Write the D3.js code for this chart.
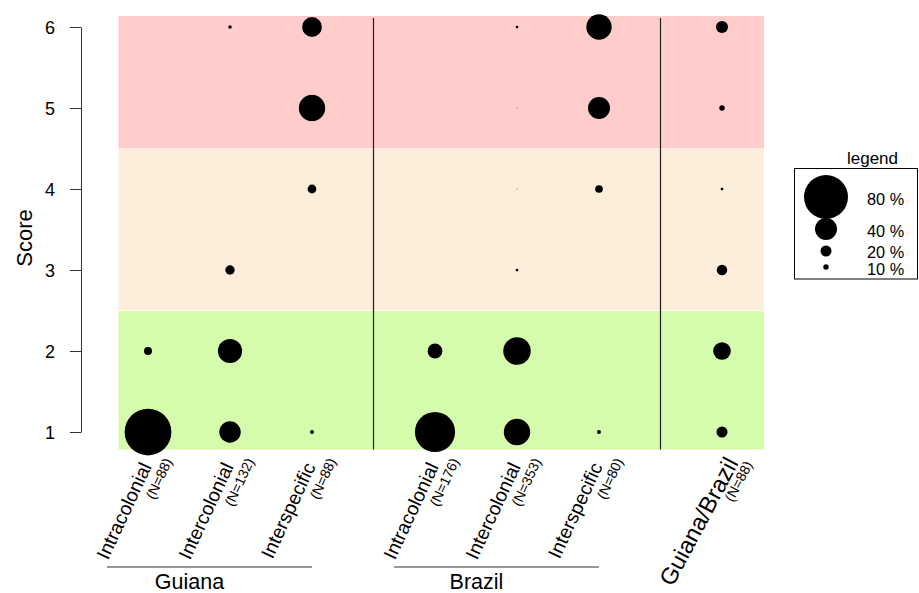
<!DOCTYPE html>
<html><head><meta charset="utf-8">
<script src="https://cdn.jsdelivr.net/npm/d3@7"></script>
<style>
body{margin:0;background:#fff}
text{font-family:"Liberation Sans", Arial, Helvetica, sans-serif;fill:#000}
</style>
</head><body>
<svg id="chart" width="919" height="593"></svg>
<script>
// ---- data ----
const categories = ["Intracolonial","Intercolonial","Interspecific","Intracolonial","Intercolonial","Interspecific","Guiana/Brazil"];
const sampleSizes = [88, 132, 88, 176, 353, 80, 88];
const positions = [1, 2, 3, 4.5, 5.5, 6.5, 8];
const scores = [1, 2, 3, 4, 5, 6];
// percentage of pairs at each score (score 1 .. 6)
const guianaIntracolonial = [85, 14.5, 0, 0, 0, 0];
const guianaIntercolonial = [39, 44, 17, 0, 0, 6.5];
const guianaInterspecific = [7, 0, 0, 16, 48, 36];
const brazilIntracolonial = [73, 27, 0, 0, 0, 0];
const brazilIntercolonial = [48, 50, 5, 1.5, 1.5, 5];
const brazilInterspecific = [7, 0, 0, 14, 40, 46];
const guianaBrazil = [20, 32, 19, 5, 10, 22];
const seriesValues = [guianaIntracolonial, guianaIntercolonial, guianaInterspecific,
  brazilIntracolonial, brazilIntercolonial, brazilInterspecific, guianaBrazil];
const groupLabels = ["Guiana", "Brazil"];
const groupSpans = [[0.5, 3], [4, 6.5]];
const separators = [3.75, 7.25];
const bands = [
  {from: 4.5, to: 7, color: "#ffcccc"},
  {from: 2.5, to: 4.5, color: "#fdeedc"},
  {from: -1, to: 2.5, color: "#d5fcac"}
];
const legendValues = [80, 40, 20, 10];

// ---- layout ----
const svg = d3.select("#chart");
const plot = {left: 118.5, right: 764, top: 16, bottom: 449.5};
const x = d3.scaleLinear().domain([1, 8]).range([148, 722]);
const y = d3.scaleLinear().domain([1, 6]).range([432, 27]);
const r = d3.scaleLinear().domain([0, 80]).range([0, 22]);

// background bands
svg.append("g").selectAll("rect").data(bands).join("rect")
  .attr("x", plot.left)
  .attr("width", plot.right - plot.left)
  .attr("y", d => Math.max(plot.top, y(d.to)) + (d.to < 7 ? 0.6 : 0))
  .attr("height", d => Math.min(plot.bottom, y(d.from)) - Math.max(plot.top, y(d.to)) - (d.to < 7 ? 0.6 : 0))
  .attr("fill", d => d.color);

// separators
svg.append("g").selectAll("line").data(separators).join("line")
  .attr("x1", d => x(d)).attr("x2", d => x(d))
  .attr("y1", 18).attr("y2", plot.bottom)
  .attr("stroke", "#222").attr("stroke-width", 1.2);

// dots
const pts = [];
seriesValues.forEach((vals, i) => vals.forEach((v, j) => {
  if (v > 0) pts.push({pos: positions[i], score: scores[j], v});
}));
svg.append("g").selectAll("circle").data(pts).join("circle")
  .attr("cx", d => x(d.pos)).attr("cy", d => y(d.score))
  .attr("r", d => r(d.v)).attr("fill", "#000");

// y axis
const yAxis = svg.append("g").attr("transform", "translate(81,0)")
  .call(d3.axisLeft(y).tickValues(scores).tickSize(11).tickSizeOuter(0).tickPadding(15).tickFormat(d3.format("d")));
yAxis.attr("font-size", 18).attr("font-family", null);
yAxis.select(".domain").attr("stroke", "#333");
yAxis.selectAll(".tick line").attr("stroke", "#333");
yAxis.selectAll("text").attr("fill", "#000").attr("dy", "0.36em");

svg.append("text").attr("transform", "translate(32,238) rotate(-90)")
  .attr("text-anchor", "middle").attr("font-size", 22).text("Score");

// x category labels
categories.forEach((c, i) => {
  const big = i === 6;
  const px = x(positions[i]);
  const rot = big ? -62 : -65;
  svg.append("text")
    .attr("transform", `translate(${px + (big ? 17 : 4)},${big ? 463 : 466.5}) rotate(${rot})`)
    .attr("text-anchor", "end").attr("font-size", big ? 23.5 : 19.3).text(c);
  svg.append("text")
    .attr("transform", `translate(${px + (big ? 31 : 24.5)},${big ? 464.5 : 461}) rotate(${rot})`)
    .attr("text-anchor", "end").attr("font-size", 14).text(`(N=${sampleSizes[i]})`);
});

// group labels
const groupTextX = [189.5, 476.5];
groupLabels.forEach((g, i) => {
  svg.append("line")
    .attr("x1", x(groupSpans[i][0]) ).attr("x2", x(groupSpans[i][1]))
    .attr("y1", 567).attr("y2", 567).attr("stroke", "#333").attr("stroke-width", 1.2);
  svg.append("text").attr("x", groupTextX[i]).attr("y", 589)
    .attr("text-anchor", "middle").attr("font-size", 21.5).text(g);
});

// legend
const lg = svg.append("g");
lg.append("rect").attr("x", 794.5).attr("y", 168.5).attr("width", 123).attr("height", 110.5)
  .attr("fill", "#fff").attr("stroke", "#000").attr("stroke-width", 1);
lg.append("text").attr("x", 872.5).attr("y", 164).attr("text-anchor", "middle")
  .attr("font-size", 17).text("legend");
const legendY = [197, 229, 251, 267];
const legendTextY = [205, 237, 258, 275];
legendValues.forEach((v, i) => {
  lg.append("circle").attr("cx", 826).attr("cy", legendY[i]).attr("r", r(v)).attr("fill", "#000");
  lg.append("text").attr("x", 867).attr("y", legendTextY[i]).attr("font-size", 16.3).text(`${v} %`);
});
</script>
</body></html>
